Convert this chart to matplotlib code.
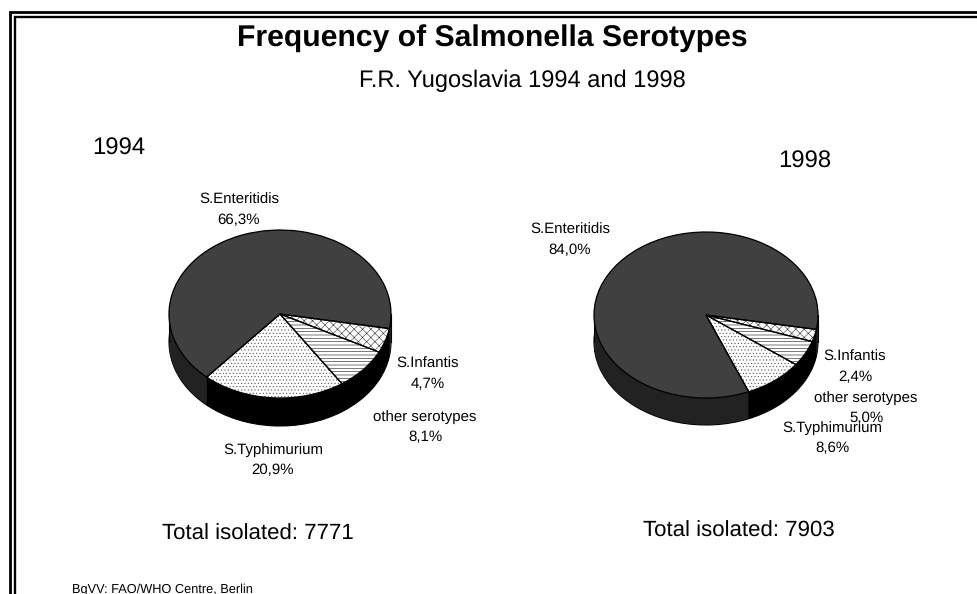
import matplotlib
matplotlib.use("Agg")
import matplotlib.pyplot as plt

plt.rcParams['font.family'] = ['Liberation Sans', 'DejaVu Sans']
plt.rcParams['hatch.linewidth'] = 0.4
plt.rcParams['text.hinting'] = 'no_hinting'

W, H = 978, 594
title = "Frequency of Salmonella Serotypes"
subtitle = "F.R. Yugoslavia 1994 and 1998"
source = "BgVV: FAO/WHO Centre, Berlin"
serotypes = ["S.Enteritidis", "S.Typhimurium", "other serotypes", "S.Infantis"]
values_1994 = [66.3, 20.9, 8.1, 4.7]
values_1998 = [84.0, 8.6, 5.0, 2.4]
total_1994 = 7771
total_1998 = 7903

top_colors = ["#404040", "#ffffff", "#ffffff", "#ffffff"]
side_colors = ["#222222", "#000000", "#000000", "#000000"]
hatches = [None, ".....", "-----", "xxxx"]
hatch_colors = ["#404040", "#555555", "#111111", "#333333"]

fig = plt.figure(figsize=(W / 100, H / 100), dpi=100, facecolor="white")


def draw_pie(values, cx, cy, rx, ry, depth):
    pad = 2
    left = cx - rx - pad
    bottom = cy + ry + depth + pad
    w = 2 * rx + 2 * pad
    h = 2 * ry + depth + 2 * pad
    ax = fig.add_axes([left / W, 1 - bottom / H, w / W, h / H])
    dy = 1 / ry
    # extruded side: stacked copies, lowest first
    steps = int(depth * 2)
    for k in range(steps, 0, -1):
        off = -k * 0.5 * dy
        edge = "black" if k == steps else "none"
        ax.pie(values, colors=side_colors, startangle=-10, center=(0, off),
               radius=1, wedgeprops=dict(linewidth=0.8 if k == steps else 0, edgecolor=edge))
    ax.plot([-1, -1], [0, -depth * dy], color="black", lw=0.8, zorder=5)
    ax.plot([1, 1], [0, -depth * dy], color="black", lw=0.8, zorder=5)
    wedges, _ = ax.pie(values, colors=top_colors, startangle=-10, radius=1,
                       wedgeprops=dict(linewidth=0))
    for wd, hc, col in zip(wedges, hatches, hatch_colors):
        wd.set_zorder(6)
        wd.set_edgecolor(col)
        if hc:
            wd.set_hatch(hc)
    outlines, _ = ax.pie(values, colors=["none"] * len(values), startangle=-10, radius=1,
                         wedgeprops=dict(linewidth=0.9, edgecolor="black"))
    for wd in outlines:
        wd.set_zorder(7)
    ax.set_aspect("auto")
    ax.set_xlim(-1 - pad / rx, 1 + pad / rx)
    ax.set_ylim(-1 - (depth + pad) * dy, 1 + pad * dy)
    ax.axis("off")
    ax.patch.set_alpha(0)


draw_pie(values_1994, 280, 314, 111, 84, 28)
draw_pie(values_1998, 706, 315, 112, 83, 27)

ov = fig.add_axes([0, 0, 1, 1], zorder=10)
ov.set_xlim(0, W)
ov.set_ylim(H, 0)
ov.axis("off")
ov.patch.set_alpha(0)

# double frame (open on the right and bottom edges of the crop)
ov.plot([W, 9.5, 9.5], [11.5, 11.5, H], color="black", lw=2.0, solid_joinstyle="miter")
ov.plot([W, 15, 15], [16.5, 16.5, H], color="black", lw=1.7, solid_joinstyle="miter")


def txt(x, y, s, size, **kw):
    ov.text(x, y, s, fontsize=size, ha=kw.pop("ha", "center"), va="center", color="black", **kw)


txt(492, 38, title, 21.7, fontweight="bold")
txt(522, 81, subtitle, 17.0)
txt(119, 149, "1994", 17.2)
txt(805, 162, "1998", 17.2)
txt(258, 534, f"Total isolated: {total_1994}", 16)
txt(739, 531, f"Total isolated: {total_1998}", 16)
txt(72, 590, source, 9.2, ha="left")

lab = 10.8
for (x, y, i) in [(239, 200, 0), (273, 450, 1), (425, 417, 2), (428, 364, 3)]:
    txt(x, y, serotypes[i], lab)
    txt(x, y + 20, f"{values_1994[i]:.1f}%".replace(".", ","), lab)
for (x, y, i) in [(570, 230, 0), (832, 428, 1), (866, 398, 2), (855, 357, 3)]:
    txt(x, y, serotypes[i], lab)
    txt(x, y + 20.5, f"{values_1998[i]:.1f}%".replace(".", ","), lab)

fig.savefig("out.png", dpi=100, facecolor="white")
